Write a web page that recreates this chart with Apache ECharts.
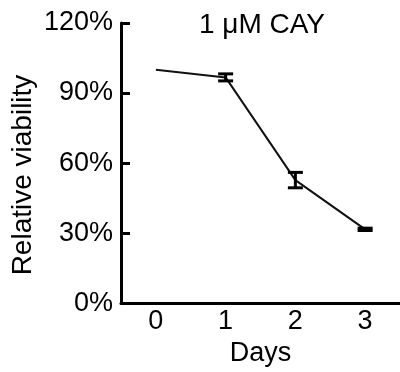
<!DOCTYPE html>
<html>
<head>
<meta charset="utf-8">
<script src="https://cdn.jsdelivr.net/npm/echarts@6/dist/echarts.min.js"></script>
<style>html,body{margin:0;padding:0;background:#fff}#c{width:400px;height:372px}</style>
</head>
<body>
<div id="c"></div>
<script>
const days = ['0', '1', '2', '3'];
const viability = [100, 96.7, 52.7, 31.6];
const errors = [0, 1.5, 3.3, 0.5];
const yTicks = [0, 30, 60, 90, 120];
const titleText = '1 μM CAY';
const yTitle = 'Relative viability';
const xTitle = 'Days';

const FONT = "'Liberation Sans', Arial, sans-serif";
const errData = days.map((d, i) => [i, viability[i] - errors[i], viability[i] + errors[i]]).filter((d, i) => errors[i] > 0);

const chart = echarts.init(document.getElementById('c'));
chart.setOption({
  animation: false,
  backgroundColor: '#fff',
  title: {
    text: titleText, left: 257, top: 6, textAlign: 'center',
    textStyle: { fontFamily: FONT, fontSize: 28, fontWeight: 'normal', color: '#000' }
  },
  graphic: [{
    type: 'text', x: 23, y: 175, rotation: Math.PI / 2,
    style: { text: yTitle, font: "28px 'Liberation Sans', Arial, sans-serif", fill: '#000', align: 'center', verticalAlign: 'middle' }
  }],
  grid: { left: 121, right: -2, top: 23, bottom: 68 },
  xAxis: {
    type: 'category', data: days, boundaryGap: true,
    name: xTitle, nameLocation: 'middle', nameGap: 35,
    nameTextStyle: { fontFamily: FONT, fontSize: 27, color: '#000' },
    axisLine: { lineStyle: { color: '#000', width: 3 } },
    axisTick: { alignWithLabel: true, inside: true, length: 9, lineStyle: { color: '#000', width: 3 } },
    axisLabel: { fontFamily: FONT, fontSize: 27, color: '#000', margin: 5 },
    splitLine: { show: false }
  },
  yAxis: {
    type: 'value', min: yTicks[0], max: yTicks[yTicks.length - 1], interval: 30,
    axisLine: { show: true, lineStyle: { color: '#000', width: 3 } },
    axisTick: { show: true, inside: true, length: 9, lineStyle: { color: '#000', width: 3 } },
    axisLabel: { fontFamily: FONT, fontSize: 27, color: '#000', margin: 8, formatter: '{value}%' },
    splitLine: { show: false }
  },
  series: [
    {
      type: 'line', data: viability, symbol: 'none',
      lineStyle: { color: '#111', width: 2 }, z: 3
    },
    {
      type: 'custom', data: errData, z: 4,
      renderItem: function (params, api) {
        const x = api.value(0);
        const lo = api.coord([x, api.value(1)]);
        const hi = api.coord([x, api.value(2)]);
        const hw = 7.5;
        const st = { stroke: '#000', lineWidth: 3, fill: null };
        return {
          type: 'group',
          children: [
            { type: 'line', shape: { x1: lo[0], y1: lo[1], x2: hi[0], y2: hi[1] }, style: st },
            { type: 'line', shape: { x1: lo[0] - hw, y1: lo[1], x2: lo[0] + hw, y2: lo[1] }, style: st },
            { type: 'line', shape: { x1: hi[0] - hw, y1: hi[1], x2: hi[0] + hw, y2: hi[1] }, style: st }
          ]
        };
      }
    }
  ]
});
</script>
</body>
</html>
